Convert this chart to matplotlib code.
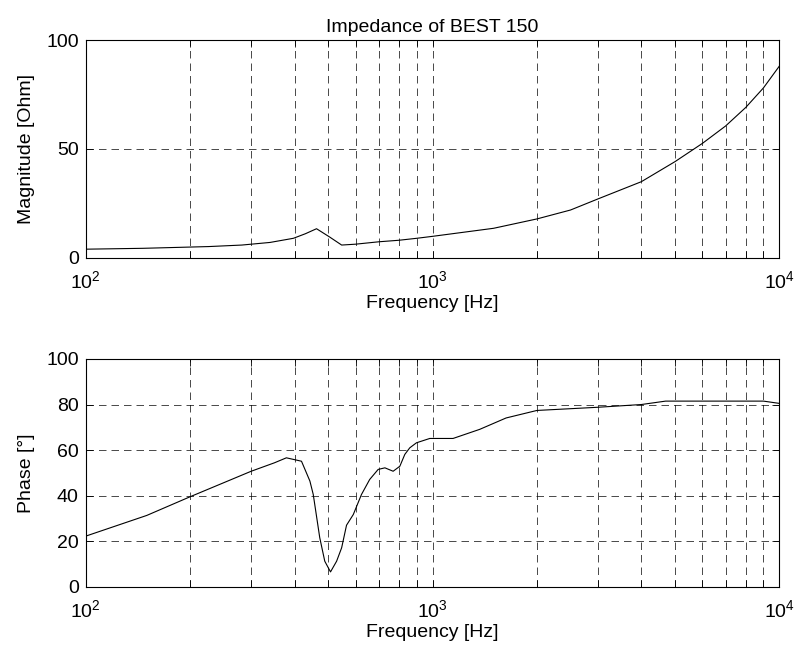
import numpy as np
import matplotlib
matplotlib.use("Agg")
import matplotlib.pyplot as plt
from matplotlib.ticker import LogLocator, NullFormatter, FixedLocator

plt.rcParams['font.family'] = ['Liberation Sans', 'DejaVu Sans']
plt.rcParams['mathtext.default'] = 'regular'
plt.rcParams['lines.scale_dashes'] = False

# impedance magnitude, read along the sweep
MAG_FREQ = [100, 146, 226, 282, 340, 397, 430, 463, 505, 547, 600, 700, 800, 900,
            1000, 1500, 2000, 2500, 3000, 4000, 5000, 6000, 7000, 8000, 9000, 10000]
MAG_OHM = [3.9, 4.3, 5.1, 5.8, 7.0, 8.9, 11.0, 13.3, 9.5, 5.8, 6.2, 7.3, 8.0, 8.9,
           9.8, 13.5, 17.8, 21.9, 27.0, 34.9, 44.1, 52.5, 60.5, 69.0, 78.0, 88.0]

# impedance phase
PH_FREQ = [100, 150, 200, 300, 350, 379, 419, 443, 453, 473, 489, 508, 529, 547,
           565, 591, 624, 659, 697, 729, 770, 805, 832, 860, 899, 982, 1146, 1368,
           1630, 2000, 3000, 4000, 4700, 9000, 10000]
PH_DEG = [22.2, 31.3, 39.5, 50.7, 54.4, 56.6, 55.1, 46.4, 40.5, 21.5, 11.2, 6.5,
          11.2, 17.1, 27.0, 31.7, 40.5, 47.1, 51.5, 52.2, 50.7, 52.9, 58.1, 61.0,
          63.2, 65.1, 65.1, 69.1, 74.1, 77.4, 78.8, 80.0, 81.5, 81.5, 80.5]

MAG_YTICKS = [0, 50, 100]
PH_YTICKS = [0, 20, 40, 60, 80, 100]

FS = 14
GRID = dict(color='k', linestyle=(0, (5.4, 3.6)), linewidth=0.5)


def style_axes(ax, yticks):
    ax.set_xscale('log')
    ax.set_xlim(100, 10000)
    ax.set_ylim(yticks[0], yticks[-1])
    ax.yaxis.set_major_locator(FixedLocator(yticks))
    ax.xaxis.set_major_locator(LogLocator(base=10))
    ax.xaxis.set_minor_locator(LogLocator(base=10, subs=np.arange(2, 10)))
    ax.xaxis.set_minor_formatter(NullFormatter())
    ax.tick_params(which='both', direction='in', top=True, right=True,
                   width=0.6, labelsize=FS)
    ax.tick_params(which='major', length=5)
    ax.tick_params(which='minor', length=5)
    ax.tick_params(axis='x', which='major', pad=9)
    ax.tick_params(axis='y', pad=5)
    ax.grid(True, which='major', axis='y', **GRID)
    ax.grid(True, which='both', axis='x', **GRID)
    ax.set_axisbelow(True)
    for s in ax.spines.values():
        s.set_linewidth(0.8)
    ax.set_xlabel('Frequency [Hz]', fontsize=FS, labelpad=2)


fig = plt.figure(figsize=(7.98, 6.57), dpi=100)

ax1 = fig.add_axes([0.1074, 0.6078, 0.8692, 0.3313])
ax1.plot(MAG_FREQ, MAG_OHM, color='k', linewidth=0.8)
style_axes(ax1, MAG_YTICKS)
ax1.set_ylabel('Magnitude [Ohm]', fontsize=FS, labelpad=8)
ax1.set_title('Impedance of BEST 150', fontsize=FS, pad=6)

ax2 = fig.add_axes([0.1074, 0.1070, 0.8692, 0.3466])
ax2.plot(PH_FREQ, PH_DEG, color='k', linewidth=0.8)
style_axes(ax2, PH_YTICKS)
ax2.set_ylabel('Phase [°]', fontsize=FS, labelpad=8)

fig.savefig('out.png', dpi=100)
